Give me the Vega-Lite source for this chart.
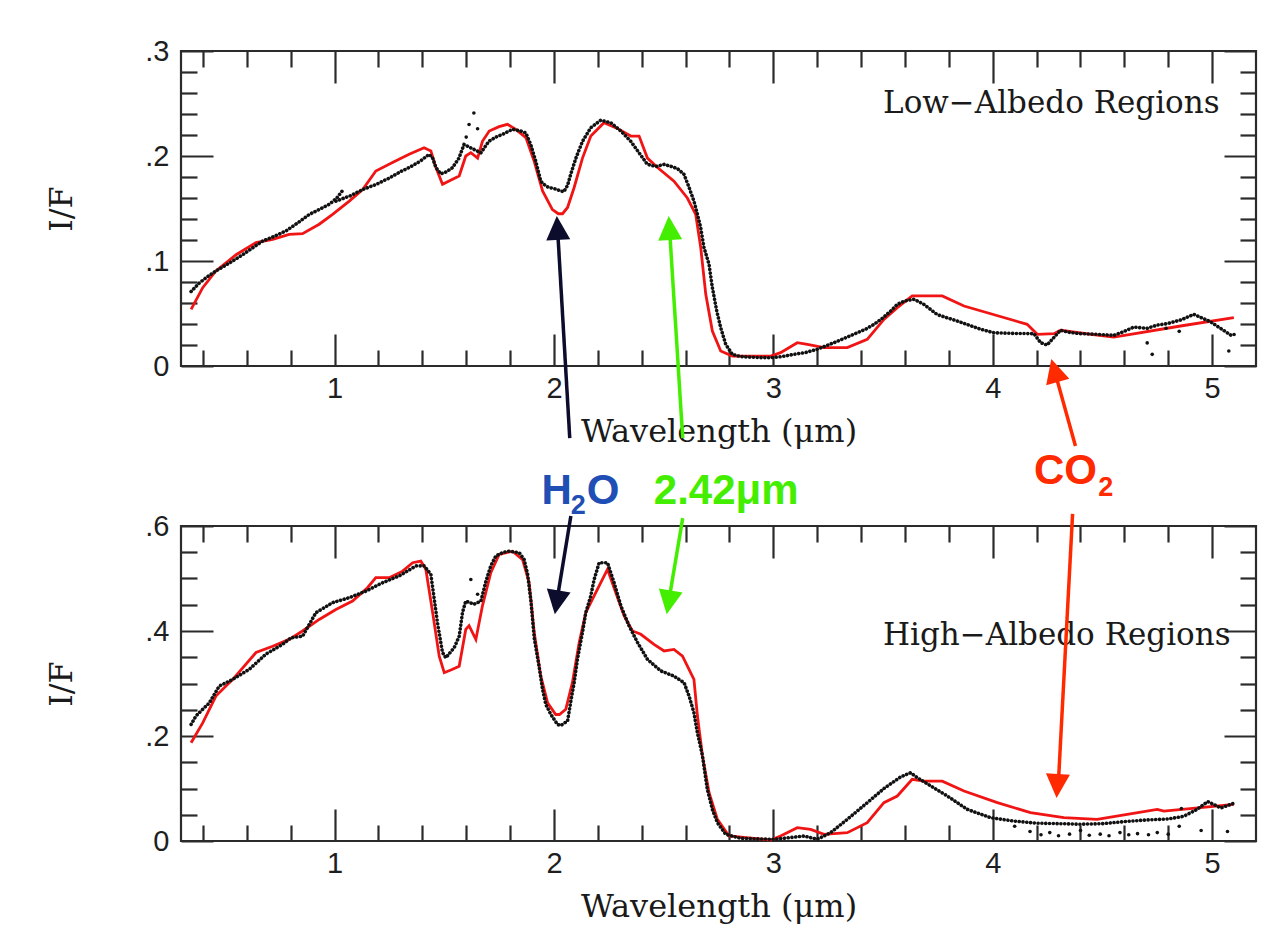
{
"$schema":"https://vega.github.io/schema/vega-lite/v6.json",
"background":"white",
"padding":{"left":43,"top":35,"right":5,"bottom":5},
"bounds":"flush",
"spacing":160,
"config":{
 "view":{"stroke":"#2b2b2b","strokeWidth":2.2},
 "axis":{"domain":false,"grid":false,"tickColor":"#2b2b2b","tickWidth":2.2,"labelFlush":false,"labelOverlap":false,"labelFont":"Liberation Sans","labelFontSize":29,"labelColor":"#1e1e1e","titleFont":"DejaVu Serif","titleFontSize":32,"titleFontWeight":"normal","titleColor":"#1a1a1a"}
},
"datasets":{
 "lowObs":[
  {"wl":0.346,"IF":0.071,"seg":"a"},{"wl":0.383,"IF":0.079,"seg":"a"},{"wl":0.42,"IF":0.085,"seg":"a"},{"wl":0.459,"IF":0.0905,"seg":"a"},{"wl":0.52,"IF":0.098,"seg":"a"},{"wl":0.581,"IF":0.106,"seg":"a"},{"wl":0.63,"IF":0.113,"seg":"a"},{"wl":0.672,"IF":0.119,"seg":"a"},{"wl":0.72,"IF":0.123,"seg":"a"},{"wl":0.778,"IF":0.1286,"seg":"a"},{"wl":0.83,"IF":0.136,"seg":"a"},{"wl":0.885,"IF":0.1444,"seg":"a"},{"wl":0.93,"IF":0.149,"seg":"a"},{"wl":0.976,"IF":0.154,"seg":"a"},{"wl":1.01,"IF":0.16,"seg":"a"},{"wl":1.04,"IF":0.168,"seg":"a"},
  {"wl":1.006,"IF":0.157,"seg":"b"},{"wl":1.07,"IF":0.162,"seg":"b"},{"wl":1.128,"IF":0.168,"seg":"b"},{"wl":1.19,"IF":0.173,"seg":"b"},{"wl":1.249,"IF":0.179,"seg":"b"},{"wl":1.3,"IF":0.185,"seg":"b"},{"wl":1.34,"IF":0.189,"seg":"b"},{"wl":1.39,"IF":0.195,"seg":"b"},{"wl":1.431,"IF":0.2016,"seg":"b"},{"wl":1.447,"IF":0.198,"seg":"b"},{"wl":1.462,"IF":0.189,"seg":"b"},{"wl":1.484,"IF":0.183,"seg":"b"},{"wl":1.51,"IF":0.185,"seg":"b"},{"wl":1.538,"IF":0.189,"seg":"b"},{"wl":1.567,"IF":0.198,"seg":"b"},{"wl":1.59,"IF":0.211,"seg":"b"},{"wl":1.667,"IF":0.203,"seg":"b"},{"wl":1.703,"IF":0.214,"seg":"b"},{"wl":1.735,"IF":0.218,"seg":"b"},{"wl":1.766,"IF":0.2206,"seg":"b"},{"wl":1.811,"IF":0.2254,"seg":"b"},{"wl":1.845,"IF":0.224,"seg":"b"},{"wl":1.872,"IF":0.222,"seg":"b"},{"wl":1.894,"IF":0.211,"seg":"b"},{"wl":1.917,"IF":0.195,"seg":"b"},{"wl":1.94,"IF":0.176,"seg":"b"},{"wl":1.96,"IF":0.172,"seg":"b"},{"wl":1.976,"IF":0.17,"seg":"b"},{"wl":2.0,"IF":0.169,"seg":"b"},{"wl":2.031,"IF":0.1667,"seg":"b"},{"wl":2.045,"IF":0.166,"seg":"b"},{"wl":2.062,"IF":0.172,"seg":"b"},{"wl":2.077,"IF":0.183,"seg":"b"},{"wl":2.1,"IF":0.198,"seg":"b"},{"wl":2.13,"IF":0.214,"seg":"b"},{"wl":2.168,"IF":0.227,"seg":"b"},{"wl":2.213,"IF":0.234,"seg":"b"},{"wl":2.259,"IF":0.2317,"seg":"b"},{"wl":2.305,"IF":0.2238,"seg":"b"},{"wl":2.35,"IF":0.214,"seg":"b"},{"wl":2.388,"IF":0.203,"seg":"b"},{"wl":2.426,"IF":0.192,"seg":"b"},{"wl":2.465,"IF":0.19,"seg":"b"},{"wl":2.502,"IF":0.192,"seg":"b"},{"wl":2.535,"IF":0.19,"seg":"b"},{"wl":2.563,"IF":0.188,"seg":"b"},{"wl":2.593,"IF":0.1825,"seg":"b"},{"wl":2.616,"IF":0.17,"seg":"b"},{"wl":2.638,"IF":0.157,"seg":"b"},{"wl":2.654,"IF":0.1444,"seg":"b"},{"wl":2.669,"IF":0.1317,"seg":"b"},{"wl":2.684,"IF":0.1127,"seg":"b"},{"wl":2.707,"IF":0.0968,"seg":"b"},{"wl":2.722,"IF":0.0746,"seg":"b"},{"wl":2.742,"IF":0.0524,"seg":"b"},{"wl":2.76,"IF":0.0365,"seg":"b"},{"wl":2.783,"IF":0.0206,"seg":"b"},{"wl":2.813,"IF":0.0111,"seg":"b"},{"wl":2.85,"IF":0.009,"seg":"b"},{"wl":2.882,"IF":0.0086,"seg":"b"},{"wl":2.94,"IF":0.008,"seg":"b"},{"wl":2.988,"IF":0.0079,"seg":"b"},{"wl":3.04,"IF":0.009,"seg":"b"},{"wl":3.094,"IF":0.0111,"seg":"b"},{"wl":3.15,"IF":0.013,"seg":"b"},{"wl":3.2,"IF":0.0159,"seg":"b"},{"wl":3.276,"IF":0.0222,"seg":"b"},{"wl":3.367,"IF":0.0302,"seg":"b"},{"wl":3.42,"IF":0.035,"seg":"b"},{"wl":3.459,"IF":0.0397,"seg":"b"},{"wl":3.5,"IF":0.046,"seg":"b"},{"wl":3.535,"IF":0.0524,"seg":"b"},{"wl":3.565,"IF":0.0587,"seg":"b"},{"wl":3.6,"IF":0.062,"seg":"b"},{"wl":3.641,"IF":0.0635,"seg":"b"},{"wl":3.686,"IF":0.0587,"seg":"b"},{"wl":3.747,"IF":0.049,"seg":"b"},{"wl":3.79,"IF":0.046,"seg":"b"},{"wl":3.838,"IF":0.0429,"seg":"b"},{"wl":3.89,"IF":0.039,"seg":"b"},{"wl":3.945,"IF":0.035,"seg":"b"},{"wl":4.005,"IF":0.0317,"seg":"b"},{"wl":4.1,"IF":0.031,"seg":"b"},{"wl":4.188,"IF":0.0308,"seg":"b"},{"wl":4.218,"IF":0.0222,"seg":"b"},{"wl":4.248,"IF":0.02,"seg":"b"},{"wl":4.271,"IF":0.0254,"seg":"b"},{"wl":4.309,"IF":0.034,"seg":"b"},{"wl":4.35,"IF":0.032,"seg":"b"},{"wl":4.4,"IF":0.0308,"seg":"b"},{"wl":4.476,"IF":0.0302,"seg":"b"},{"wl":4.552,"IF":0.0292,"seg":"b"},{"wl":4.6,"IF":0.033,"seg":"b"},{"wl":4.643,"IF":0.0371,"seg":"b"},{"wl":4.704,"IF":0.0359,"seg":"b"},{"wl":4.75,"IF":0.039,"seg":"b"},{"wl":4.795,"IF":0.0403,"seg":"b"},{"wl":4.86,"IF":0.044,"seg":"b"},{"wl":4.917,"IF":0.0492,"seg":"b"},{"wl":4.95,"IF":0.046,"seg":"b"},{"wl":4.992,"IF":0.0422,"seg":"b"},{"wl":5.038,"IF":0.0359,"seg":"b"},{"wl":5.091,"IF":0.0286,"seg":"b"},
  {"wl":1.6,"IF":0.218,"seg":"s"},{"wl":1.613,"IF":0.23,"seg":"s"},{"wl":1.635,"IF":0.241,"seg":"s"},{"wl":1.652,"IF":0.226,"seg":"s"},{"wl":4.704,"IF":0.022,"seg":"s"},{"wl":4.727,"IF":0.0111,"seg":"s"},{"wl":4.79,"IF":0.036,"seg":"s"},{"wl":4.85,"IF":0.033,"seg":"s"},{"wl":5.076,"IF":0.0143,"seg":"s"},{"wl":5.1,"IF":0.03,"seg":"s"}
 ],
 "lowModel":[
  {"wl":0.346,"IF":0.054},{"wl":0.399,"IF":0.0746},{"wl":0.459,"IF":0.0905},{"wl":0.551,"IF":0.106},{"wl":0.642,"IF":0.1175},{"wl":0.718,"IF":0.1206},{"wl":0.793,"IF":0.1254},{"wl":0.854,"IF":0.126},{"wl":0.93,"IF":0.135},{"wl":0.991,"IF":0.1444},{"wl":1.067,"IF":0.157},{"wl":1.128,"IF":0.168},{"wl":1.188,"IF":0.1857},{"wl":1.264,"IF":0.1937},{"wl":1.34,"IF":0.2016},{"wl":1.408,"IF":0.2079},{"wl":1.439,"IF":0.2048},{"wl":1.462,"IF":0.189},{"wl":1.492,"IF":0.173},{"wl":1.538,"IF":0.1778},{"wl":1.568,"IF":0.181},{"wl":1.598,"IF":0.2},{"wl":1.621,"IF":0.2032},{"wl":1.652,"IF":0.198},{"wl":1.674,"IF":0.214},{"wl":1.705,"IF":0.2238},{"wl":1.75,"IF":0.228},{"wl":1.788,"IF":0.2302},{"wl":1.826,"IF":0.2254},{"wl":1.872,"IF":0.2175},{"wl":1.91,"IF":0.195},{"wl":1.948,"IF":0.1667},{"wl":1.993,"IF":0.149},{"wl":2.02,"IF":0.145},{"wl":2.039,"IF":0.145},{"wl":2.062,"IF":0.151},{"wl":2.092,"IF":0.17},{"wl":2.13,"IF":0.198},{"wl":2.168,"IF":0.219},{"wl":2.228,"IF":0.2317},{"wl":2.289,"IF":0.2263},{"wl":2.35,"IF":0.219},{"wl":2.388,"IF":0.219},{"wl":2.426,"IF":0.198},{"wl":2.472,"IF":0.189},{"wl":2.547,"IF":0.176},{"wl":2.608,"IF":0.16},{"wl":2.646,"IF":0.1444},{"wl":2.669,"IF":0.1127},{"wl":2.692,"IF":0.0683},{"wl":2.722,"IF":0.0333},{"wl":2.76,"IF":0.0143},{"wl":2.813,"IF":0.0095},{"wl":2.988,"IF":0.0095},{"wl":3.033,"IF":0.0127},{"wl":3.109,"IF":0.0222},{"wl":3.155,"IF":0.0206},{"wl":3.231,"IF":0.0175},{"wl":3.337,"IF":0.0175},{"wl":3.428,"IF":0.0254},{"wl":3.504,"IF":0.0444},{"wl":3.565,"IF":0.0556},{"wl":3.633,"IF":0.0667},{"wl":3.77,"IF":0.0667},{"wl":3.869,"IF":0.0571},{"wl":4.157,"IF":0.0397},{"wl":4.203,"IF":0.0302},{"wl":4.279,"IF":0.0308},{"wl":4.309,"IF":0.034},{"wl":4.476,"IF":0.0295},{"wl":4.552,"IF":0.0276},{"wl":4.628,"IF":0.0302},{"wl":4.856,"IF":0.0381},{"wl":5.099,"IF":0.046}
 ],
 "highObs":[
  {"wl":0.346,"IF":0.222,"seg":"a"},{"wl":0.368,"IF":0.238,"seg":"a"},{"wl":0.399,"IF":0.251,"seg":"a"},{"wl":0.429,"IF":0.263,"seg":"a"},{"wl":0.474,"IF":0.295,"seg":"a"},{"wl":0.536,"IF":0.308,"seg":"a"},{"wl":0.611,"IF":0.327,"seg":"a"},{"wl":0.687,"IF":0.356,"seg":"a"},{"wl":0.763,"IF":0.3746,"seg":"a"},{"wl":0.801,"IF":0.387,"seg":"a"},{"wl":0.854,"IF":0.39,"seg":"a"},{"wl":0.915,"IF":0.435,"seg":"a"},{"wl":0.991,"IF":0.454,"seg":"a"},{"wl":1.067,"IF":0.4635,"seg":"a"},{"wl":1.143,"IF":0.476,"seg":"a"},{"wl":1.219,"IF":0.492,"seg":"a"},{"wl":1.295,"IF":0.505,"seg":"a"},{"wl":1.371,"IF":0.524,"seg":"a"},{"wl":1.408,"IF":0.524,"seg":"a"},{"wl":1.439,"IF":0.508,"seg":"a"},{"wl":1.469,"IF":0.416,"seg":"a"},{"wl":1.492,"IF":0.359,"seg":"a"},{"wl":1.507,"IF":0.349,"seg":"a"},{"wl":1.545,"IF":0.368,"seg":"a"},{"wl":1.568,"IF":0.39,"seg":"a"},{"wl":1.583,"IF":0.435,"seg":"a"},{"wl":1.598,"IF":0.457,"seg":"a"},{"wl":1.636,"IF":0.451,"seg":"a"},{"wl":1.667,"IF":0.457,"seg":"a"},{"wl":1.69,"IF":0.495,"seg":"a"},{"wl":1.712,"IF":0.524,"seg":"a"},{"wl":1.735,"IF":0.543,"seg":"a"},{"wl":1.77,"IF":0.55,"seg":"a"},{"wl":1.796,"IF":0.552,"seg":"a"},{"wl":1.842,"IF":0.549,"seg":"a"},{"wl":1.864,"IF":0.536,"seg":"a"},{"wl":1.88,"IF":0.508,"seg":"a"},{"wl":1.895,"IF":0.457,"seg":"a"},{"wl":1.91,"IF":0.387,"seg":"a"},{"wl":1.932,"IF":0.333,"seg":"a"},{"wl":1.948,"IF":0.289,"seg":"a"},{"wl":1.963,"IF":0.26,"seg":"a"},{"wl":1.986,"IF":0.241,"seg":"a"},{"wl":2.016,"IF":0.222,"seg":"a"},{"wl":2.031,"IF":0.22,"seg":"a"},{"wl":2.062,"IF":0.2286,"seg":"a"},{"wl":2.077,"IF":0.2667,"seg":"a"},{"wl":2.092,"IF":0.3016,"seg":"a"},{"wl":2.107,"IF":0.346,"seg":"a"},{"wl":2.13,"IF":0.397,"seg":"a"},{"wl":2.145,"IF":0.435,"seg":"a"},{"wl":2.168,"IF":0.467,"seg":"a"},{"wl":2.183,"IF":0.498,"seg":"a"},{"wl":2.206,"IF":0.53,"seg":"a"},{"wl":2.244,"IF":0.53,"seg":"a"},{"wl":2.274,"IF":0.492,"seg":"a"},{"wl":2.305,"IF":0.448,"seg":"a"},{"wl":2.342,"IF":0.41,"seg":"a"},{"wl":2.381,"IF":0.378,"seg":"a"},{"wl":2.426,"IF":0.346,"seg":"a"},{"wl":2.487,"IF":0.324,"seg":"a"},{"wl":2.547,"IF":0.314,"seg":"a"},{"wl":2.593,"IF":0.3016,"seg":"a"},{"wl":2.616,"IF":0.276,"seg":"a"},{"wl":2.638,"IF":0.2444,"seg":"a"},{"wl":2.654,"IF":0.206,"seg":"a"},{"wl":2.677,"IF":0.162,"seg":"a"},{"wl":2.699,"IF":0.0984,"seg":"a"},{"wl":2.722,"IF":0.0603,"seg":"a"},{"wl":2.745,"IF":0.0349,"seg":"a"},{"wl":2.783,"IF":0.0127,"seg":"a"},{"wl":2.851,"IF":0.0051,"seg":"a"},{"wl":3.003,"IF":0.0032,"seg":"a"},{"wl":3.14,"IF":0.0095,"seg":"a"},{"wl":3.2,"IF":0.0032,"seg":"a"},{"wl":3.261,"IF":0.0159,"seg":"a"},{"wl":3.337,"IF":0.0413,"seg":"a"},{"wl":3.428,"IF":0.073,"seg":"a"},{"wl":3.504,"IF":0.1,"seg":"a"},{"wl":3.58,"IF":0.122,"seg":"a"},{"wl":3.626,"IF":0.13,"seg":"a"},{"wl":3.656,"IF":0.1206,"seg":"a"},{"wl":3.717,"IF":0.105,"seg":"a"},{"wl":3.793,"IF":0.0857,"seg":"a"},{"wl":3.884,"IF":0.0603,"seg":"a"},{"wl":3.99,"IF":0.0444,"seg":"a"},{"wl":4.096,"IF":0.038,"seg":"a"},{"wl":4.2,"IF":0.034,"seg":"a"},{"wl":4.3,"IF":0.033,"seg":"a"},{"wl":4.4,"IF":0.032,"seg":"a"},{"wl":4.5,"IF":0.033,"seg":"a"},{"wl":4.6,"IF":0.037,"seg":"a"},{"wl":4.7,"IF":0.04,"seg":"a"},{"wl":4.8,"IF":0.042,"seg":"a"},{"wl":4.87,"IF":0.047,"seg":"a"},{"wl":4.93,"IF":0.06,"seg":"a"},{"wl":4.98,"IF":0.075,"seg":"a"},{"wl":5.04,"IF":0.063,"seg":"a"},{"wl":5.1,"IF":0.072,"seg":"a"},
  {"wl":1.621,"IF":0.498,"seg":"s"},{"wl":1.652,"IF":0.47,"seg":"s"},{"wl":4.1,"IF":0.028,"seg":"s"},{"wl":4.17,"IF":0.018,"seg":"s"},{"wl":4.22,"IF":0.012,"seg":"s"},{"wl":4.26,"IF":0.016,"seg":"s"},{"wl":4.3,"IF":0.01,"seg":"s"},{"wl":4.35,"IF":0.013,"seg":"s"},{"wl":4.4,"IF":0.02,"seg":"s"},{"wl":4.44,"IF":0.011,"seg":"s"},{"wl":4.49,"IF":0.013,"seg":"s"},{"wl":4.53,"IF":0.01,"seg":"s"},{"wl":4.58,"IF":0.016,"seg":"s"},{"wl":4.62,"IF":0.012,"seg":"s"},{"wl":4.66,"IF":0.014,"seg":"s"},{"wl":4.71,"IF":0.012,"seg":"s"},{"wl":4.75,"IF":0.016,"seg":"s"},{"wl":4.8,"IF":0.013,"seg":"s"},{"wl":4.85,"IF":0.028,"seg":"s"},{"wl":4.86,"IF":0.062,"seg":"s"},{"wl":4.95,"IF":0.02,"seg":"s"},{"wl":5.07,"IF":0.018,"seg":"s"}
 ],
 "highModel":[
  {"wl":0.346,"IF":0.187},{"wl":0.399,"IF":0.225},{"wl":0.459,"IF":0.276},{"wl":0.536,"IF":0.308},{"wl":0.642,"IF":0.359},{"wl":0.718,"IF":0.371},{"wl":0.793,"IF":0.384},{"wl":0.854,"IF":0.4},{"wl":0.93,"IF":0.422},{"wl":1.006,"IF":0.441},{"wl":1.082,"IF":0.457},{"wl":1.15,"IF":0.4825},{"wl":1.188,"IF":0.5016},{"wl":1.249,"IF":0.5016},{"wl":1.31,"IF":0.514},{"wl":1.356,"IF":0.53},{"wl":1.393,"IF":0.533},{"wl":1.416,"IF":0.5175},{"wl":1.447,"IF":0.435},{"wl":1.477,"IF":0.352},{"wl":1.5,"IF":0.3206},{"wl":1.538,"IF":0.327},{"wl":1.568,"IF":0.333},{"wl":1.598,"IF":0.403},{"wl":1.613,"IF":0.41},{"wl":1.644,"IF":0.384},{"wl":1.674,"IF":0.448},{"wl":1.712,"IF":0.511},{"wl":1.75,"IF":0.546},{"wl":1.811,"IF":0.552},{"wl":1.857,"IF":0.536},{"wl":1.887,"IF":0.492},{"wl":1.91,"IF":0.397},{"wl":1.94,"IF":0.314},{"wl":1.971,"IF":0.263},{"wl":2.008,"IF":0.241},{"wl":2.025,"IF":0.241},{"wl":2.054,"IF":0.251},{"wl":2.084,"IF":0.3016},{"wl":2.115,"IF":0.378},{"wl":2.145,"IF":0.435},{"wl":2.183,"IF":0.467},{"wl":2.244,"IF":0.5175},{"wl":2.282,"IF":0.473},{"wl":2.32,"IF":0.4286},{"wl":2.358,"IF":0.4},{"wl":2.396,"IF":0.3937},{"wl":2.456,"IF":0.3746},{"wl":2.502,"IF":0.362},{"wl":2.547,"IF":0.365},{"wl":2.586,"IF":0.352},{"wl":2.638,"IF":0.308},{"wl":2.654,"IF":0.238},{"wl":2.677,"IF":0.162},{"wl":2.707,"IF":0.092},{"wl":2.745,"IF":0.0413},{"wl":2.798,"IF":0.0095},{"wl":2.988,"IF":0.002},{"wl":3.033,"IF":0.0095},{"wl":3.109,"IF":0.0254},{"wl":3.17,"IF":0.0222},{"wl":3.231,"IF":0.0127},{"wl":3.337,"IF":0.0159},{"wl":3.428,"IF":0.0349},{"wl":3.504,"IF":0.073},{"wl":3.565,"IF":0.0857},{"wl":3.633,"IF":0.1175},{"wl":3.686,"IF":0.114},{"wl":3.77,"IF":0.114},{"wl":3.869,"IF":0.0952},{"wl":4.021,"IF":0.073},{"wl":4.172,"IF":0.054},{"wl":4.324,"IF":0.0444},{"wl":4.476,"IF":0.0413},{"wl":4.613,"IF":0.0508},{"wl":4.75,"IF":0.0603},{"wl":4.78,"IF":0.057},{"wl":4.947,"IF":0.0635},{"wl":5.099,"IF":0.0698}
 ]
},
"vconcat":[
 {
  "width":1075,"height":315,
  "resolve":{"axis":{"x":"independent","y":"independent"}},
  "layer":[
   {"data":{"name":"lowModel"},"mark":{"type":"line","color":"#f01414","strokeWidth":2.8},
    "encoding":{
     "x":{"field":"wl","type":"quantitative","scale":{"domain":[0.3,5.2],"nice":false,"zero":false},"axis":{"orient":"bottom","values":[1,2,3,4,5],"format":"d","tickSize":-32,"labelPadding":40,"title":"Wavelength (μm)","titleY":65,"titleBaseline":"middle"}},
     "y":{"field":"IF","type":"quantitative","scale":{"domain":[0,0.3],"nice":false,"zero":false},"axis":{"orient":"left","values":[0,0.1,0.2,0.3],"labelExpr":"datum.value == 0 ? '0' : '.' + round(datum.value * 10)","tickSize":-32,"labelPadding":44,"title":"I/F","titleX":-120,"titleBaseline":"middle"}}}},
   {"data":{"name":"lowObs"},"transform":[{"filter":"datum.seg != 's'"}],"mark":{"type":"line","color":"#111111","strokeWidth":3.6,"strokeDash":[0.1,3.7],"strokeCap":"round"},
    "encoding":{"detail":{"field":"seg"},
     "x":{"field":"wl","type":"quantitative","scale":{"domain":[0.3,5.2],"nice":false,"zero":false},"axis":{"orient":"top","values":[1,2,3,4,5],"labels":false,"tickSize":-32,"title":null}},
     "y":{"field":"IF","type":"quantitative","scale":{"domain":[0,0.3],"nice":false,"zero":false},"axis":{"orient":"right","values":[0,0.1,0.2,0.3],"labels":false,"tickSize":-32,"title":null}}}},
   {"data":{"name":"lowObs"},"transform":[{"filter":"datum.seg == 's'"}],"mark":{"type":"circle","color":"#111111","size":13,"opacity":1},
    "encoding":{
     "x":{"field":"wl","type":"quantitative","scale":{"domain":[0.3,5.2],"nice":false,"zero":false},"axis":{"orient":"bottom","values":[0.4,0.6,0.8,1.2,1.4,1.6,1.8,2.2,2.4,2.6,2.8,3.2,3.4,3.6,3.8,4.2,4.4,4.6,4.8],"labels":false,"tickSize":-16,"title":null}},
     "y":{"field":"IF","type":"quantitative","scale":{"domain":[0,0.3],"nice":false,"zero":false},"axis":{"orient":"left","values":[0.02,0.04,0.06,0.08,0.12,0.14,0.16,0.18,0.22,0.24,0.26,0.28],"labels":false,"tickSize":-16,"title":null}}}},
   {"data":{"values":[{}]},"mark":{"type":"text","text":"Low−Albedo Regions","align":"left","baseline":"alphabetic","font":"DejaVu Serif","fontSize":31,"color":"#1a1a1a"},
    "encoding":{
     "x":{"datum":3.5,"type":"quantitative","axis":{"orient":"top","values":[0.4,0.6,0.8,1.2,1.4,1.6,1.8,2.2,2.4,2.6,2.8,3.2,3.4,3.6,3.8,4.2,4.4,4.6,4.8],"labels":false,"tickSize":-16,"title":null}},
     "y":{"datum":0.241,"type":"quantitative","axis":{"orient":"right","values":[0.02,0.04,0.06,0.08,0.12,0.14,0.16,0.18,0.22,0.24,0.26,0.28],"labels":false,"tickSize":-16,"title":null}}}},
   {"data":{"values":[{}]},"mark":{"type":"rule","color":"#0c0c2c","strokeWidth":3.5},
    "encoding":{"x":{"datum":2.072,"type":"quantitative","axis":null},"y":{"datum":-0.0686,"type":"quantitative","axis":null},"x2":{"datum":2.0157},"y2":{"datum":0.1333}}},
   {"data":{"values":[{}]},"mark":{"type":"point","shape":"M0,0L-0.5,1L0.5,1Z","size":2304,"filled":true,"color":"#0c0c2c","opacity":1,"strokeWidth":0,"angle":-3.4},
    "encoding":{"x":{"datum":2.013,"type":"quantitative","axis":null},"y":{"datum":0.1429,"type":"quantitative","axis":null}}},
   {"data":{"values":[{}]},"mark":{"type":"rule","color":"#44ee00","strokeWidth":3.5},
    "encoding":{"x":{"datum":2.587,"type":"quantitative","axis":null},"y":{"datum":-0.0686,"type":"quantitative","axis":null},"x2":{"datum":2.526},"y2":{"datum":0.1333}}},
   {"data":{"values":[{}]},"mark":{"type":"point","shape":"M0,0L-0.5,1L0.5,1Z","size":2304,"filled":true,"color":"#44ee00","opacity":1,"strokeWidth":0,"angle":-3.6},
    "encoding":{"x":{"datum":2.523,"type":"quantitative","axis":null},"y":{"datum":0.1429,"type":"quantitative","axis":null}}},
   {"data":{"values":[{}]},"mark":{"type":"rule","color":"#ff2a00","strokeWidth":3.5},
    "encoding":{"x":{"datum":4.377,"type":"quantitative","axis":null},"y":{"datum":-0.0762,"type":"quantitative","axis":null},"x2":{"datum":4.279},"y2":{"datum":-0.0025}}},
   {"data":{"values":[{}]},"mark":{"type":"point","shape":"M0,0L-0.5,1L0.5,1Z","size":2304,"filled":true,"color":"#ff2a00","opacity":1,"strokeWidth":0,"angle":-15.6},
    "encoding":{"x":{"datum":4.267,"type":"quantitative","axis":null},"y":{"datum":0.0067,"type":"quantitative","axis":null}}},
   {"data":{"values":[{}]},"mark":{"type":"text","text":"H","align":"right","baseline":"alphabetic","font":"Liberation Sans","fontWeight":"bold","fontSize":42,"color":"#1f4fb4"},
    "encoding":{"x":{"datum":2.081,"type":"quantitative","axis":null},"y":{"datum":-0.1314,"type":"quantitative","axis":null}}},
   {"data":{"values":[{}]},"mark":{"type":"text","text":"2","align":"center","baseline":"alphabetic","font":"Liberation Sans","fontWeight":"bold","fontSize":27,"color":"#1f4fb4"},
    "encoding":{"x":{"datum":2.111,"type":"quantitative","axis":null},"y":{"datum":-0.141,"type":"quantitative","axis":null}}},
   {"data":{"values":[{}]},"mark":{"type":"text","text":"O","align":"left","baseline":"alphabetic","font":"Liberation Sans","fontWeight":"bold","fontSize":42,"color":"#1f4fb4"},
    "encoding":{"x":{"datum":2.1497,"type":"quantitative","axis":null},"y":{"datum":-0.1314,"type":"quantitative","axis":null}}},
   {"data":{"values":[{}]},"mark":{"type":"text","text":"2.42μm","align":"center","baseline":"alphabetic","font":"Liberation Sans","fontWeight":"bold","fontSize":42,"color":"#44ee00"},
    "encoding":{"x":{"datum":2.785,"type":"quantitative","axis":null},"y":{"datum":-0.1314,"type":"quantitative","axis":null}}},
   {"data":{"values":[{}]},"mark":{"type":"text","text":"CO","align":"right","baseline":"alphabetic","font":"Liberation Sans","fontWeight":"bold","fontSize":42,"color":"#ff2a00"},
    "encoding":{"x":{"datum":4.475,"type":"quantitative","axis":null},"y":{"datum":-0.1124,"type":"quantitative","axis":null}}},
   {"data":{"values":[{}]},"mark":{"type":"text","text":"2","align":"center","baseline":"alphabetic","font":"Liberation Sans","fontWeight":"bold","fontSize":27,"color":"#ff2a00"},
    "encoding":{"x":{"datum":4.515,"type":"quantitative","axis":null},"y":{"datum":-0.1238,"type":"quantitative","axis":null}}}
  ]
 },
 {
  "width":1075,"height":315,
  "resolve":{"axis":{"x":"independent","y":"independent"}},
  "layer":[
   {"data":{"name":"highModel"},"mark":{"type":"line","color":"#f01414","strokeWidth":2.8},
    "encoding":{
     "x":{"field":"wl","type":"quantitative","scale":{"domain":[0.3,5.2],"nice":false,"zero":false},"axis":{"orient":"bottom","values":[1,2,3,4,5],"format":"d","tickSize":-32,"labelPadding":40,"title":"Wavelength (μm)","titleY":65,"titleBaseline":"middle"}},
     "y":{"field":"IF","type":"quantitative","scale":{"domain":[0,0.6],"nice":false,"zero":false},"axis":{"orient":"left","values":[0,0.2,0.4,0.6],"labelExpr":"datum.value == 0 ? '0' : '.' + round(datum.value * 10)","tickSize":-32,"labelPadding":44,"title":"I/F","titleX":-120,"titleBaseline":"middle"}}}},
   {"data":{"name":"highObs"},"transform":[{"filter":"datum.seg != 's'"}],"mark":{"type":"line","color":"#111111","strokeWidth":3.6,"strokeDash":[0.1,3.7],"strokeCap":"round"},
    "encoding":{"detail":{"field":"seg"},
     "x":{"field":"wl","type":"quantitative","scale":{"domain":[0.3,5.2],"nice":false,"zero":false},"axis":{"orient":"top","values":[1,2,3,4,5],"labels":false,"tickSize":-32,"title":null}},
     "y":{"field":"IF","type":"quantitative","scale":{"domain":[0,0.6],"nice":false,"zero":false},"axis":{"orient":"right","values":[0,0.2,0.4,0.6],"labels":false,"tickSize":-32,"title":null}}}},
   {"data":{"name":"highObs"},"transform":[{"filter":"datum.seg == 's'"}],"mark":{"type":"circle","color":"#111111","size":13,"opacity":1},
    "encoding":{
     "x":{"field":"wl","type":"quantitative","scale":{"domain":[0.3,5.2],"nice":false,"zero":false},"axis":{"orient":"bottom","values":[0.4,0.6,0.8,1.2,1.4,1.6,1.8,2.2,2.4,2.6,2.8,3.2,3.4,3.6,3.8,4.2,4.4,4.6,4.8],"labels":false,"tickSize":-16,"title":null}},
     "y":{"field":"IF","type":"quantitative","scale":{"domain":[0,0.6],"nice":false,"zero":false},"axis":{"orient":"left","values":[0.05,0.1,0.15,0.25,0.3,0.35,0.45,0.5,0.55],"labels":false,"tickSize":-16,"title":null}}}},
   {"data":{"values":[{}]},"mark":{"type":"text","text":"High−Albedo Regions","align":"left","baseline":"alphabetic","font":"DejaVu Serif","fontSize":31,"color":"#1a1a1a"},
    "encoding":{
     "x":{"datum":3.5,"type":"quantitative","axis":{"orient":"top","values":[0.4,0.6,0.8,1.2,1.4,1.6,1.8,2.2,2.4,2.6,2.8,3.2,3.4,3.6,3.8,4.2,4.4,4.6,4.8],"labels":false,"tickSize":-16,"title":null}},
     "y":{"datum":0.373,"type":"quantitative","axis":{"orient":"right","values":[0.05,0.1,0.15,0.25,0.3,0.35,0.45,0.5,0.55],"labels":false,"tickSize":-16,"title":null}}}},
   {"data":{"values":[{}]},"mark":{"type":"rule","color":"#0c0c2c","strokeWidth":3.5},
    "encoding":{"x":{"datum":2.077,"type":"quantitative","axis":null},"y":{"datum":0.619,"type":"quantitative","axis":null},"x2":{"datum":2.011},"y2":{"datum":0.4512}}},
   {"data":{"values":[{}]},"mark":{"type":"point","shape":"M0,0L-0.5,-1L0.5,-1Z","size":2304,"filled":true,"color":"#0c0c2c","opacity":1,"strokeWidth":0,"angle":9.3},
    "encoding":{"x":{"datum":2.004,"type":"quantitative","axis":null},"y":{"datum":0.432,"type":"quantitative","axis":null}}},
   {"data":{"values":[{}]},"mark":{"type":"rule","color":"#44ee00","strokeWidth":3.5},
    "encoding":{"x":{"datum":2.587,"type":"quantitative","axis":null},"y":{"datum":0.615,"type":"quantitative","axis":null},"x2":{"datum":2.521},"y2":{"datum":0.4512}}},
   {"data":{"values":[{}]},"mark":{"type":"point","shape":"M0,0L-0.5,-1L0.5,-1Z","size":2304,"filled":true,"color":"#44ee00","opacity":1,"strokeWidth":0,"angle":9.5},
    "encoding":{"x":{"datum":2.514,"type":"quantitative","axis":null},"y":{"datum":0.432,"type":"quantitative","axis":null}}},
   {"data":{"values":[{}]},"mark":{"type":"rule","color":"#ff2a00","strokeWidth":3.5},
    "encoding":{"x":{"datum":4.364,"type":"quantitative","axis":null},"y":{"datum":0.623,"type":"quantitative","axis":null},"x2":{"datum":4.298},"y2":{"datum":0.101}}},
   {"data":{"values":[{}]},"mark":{"type":"point","shape":"M0,0L-0.5,-1L0.5,-1Z","size":2304,"filled":true,"color":"#ff2a00","opacity":1,"strokeWidth":0,"angle":3.2},
    "encoding":{"x":{"datum":4.291,"type":"quantitative","axis":null},"y":{"datum":0.0819,"type":"quantitative","axis":null}}}
  ]
 }
]
}
